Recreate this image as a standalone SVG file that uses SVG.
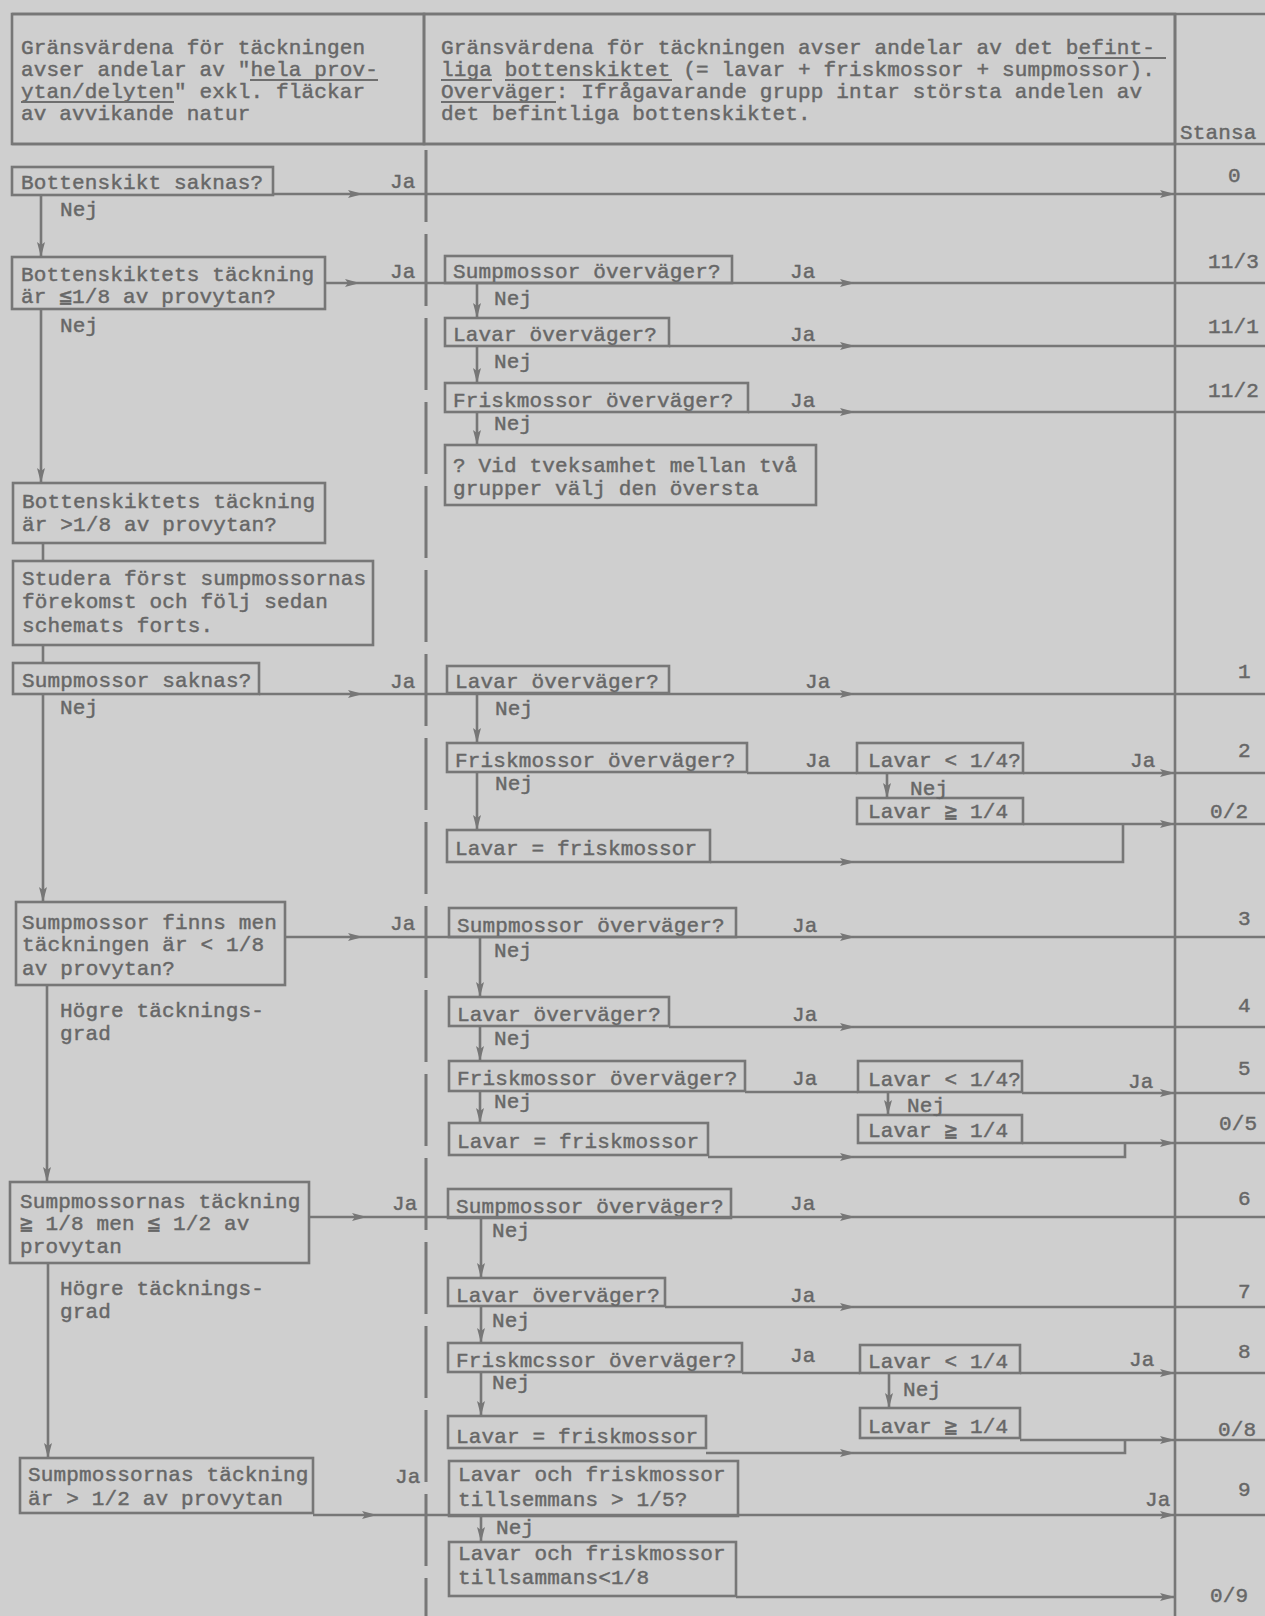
<svg xmlns="http://www.w3.org/2000/svg" width="1265" height="1616" viewBox="0 0 1265 1616">
<defs>
<style>
.t{font-family:"Liberation Mono","DejaVu Sans Mono",monospace;font-size:21px;fill:#676767;stroke:#676767;stroke-width:0.45;letter-spacing:0.15px}
.b{fill:none;stroke:#777;stroke-width:2.6}
.c{fill:none;stroke:#777;stroke-width:2.6}
.ca{fill:none;stroke:#777;stroke-width:2.6;marker-end:url(#a)}
.u{fill:none;stroke:#6f6f6f;stroke-width:1.8}
.d{fill:none;stroke:#777;stroke-width:3;stroke-dasharray:72 12}
</style>
<marker id="a" viewBox="0 0 15 9" refX="15" refY="4.5" markerWidth="15" markerHeight="9" markerUnits="userSpaceOnUse" orient="auto">
<path d="M0,0.5 L15,4.5 L0,8.5 L3,4.5 z" fill="#777"/>
</marker>
</defs>
<rect x="0" y="0" width="1265" height="1616" fill="#cfcfcf"/>

<g id="frame">
<path class="c" d="M12,14H1265 M12,144H1265 M1175,14V1616"/>
<path class="d" d="M426,150V1616"/>
</g>

<g id="header-left">
<rect class="b" x="12" y="14" width="412" height="130"/>
<text class="t" x="21" y="54">Gränsvärdena för täckningen</text>
<text class="t" x="21" y="76">avser andelar av "hela prov-</text>
<text class="t" x="21" y="98">ytan/delyten" exkl. fläckar</text>
<text class="t" x="21" y="120">av avvikande natur</text>
<path class="u" d="M250,80H378 M21,102H174"/>
</g>

<g id="header-mid">
<rect class="b" x="424" y="14" width="751" height="130"/>
<text class="t" x="441" y="54">Gränsvärdena för täckningen avser andelar av det befint-</text>
<text class="t" x="441" y="76">liga bottenskiktet (= lavar + friskmossor + sumpmossor).</text>
<text class="t" x="441" y="98">Overväger: Ifrågavarande grupp intar största andelen av</text>
<text class="t" x="441" y="120">det befintliga bottenskiktet.</text>
<path class="u" d="M1078,58H1166 M441,80H492 M505,80H672 M441,102H556"/>
</g>

<g id="header-stansa">
<text class="t" x="1180" y="139">Stansa</text>
</g>

<g id="n1"><rect class="b" x="12" y="167" width="261" height="28"/><text class="t" x="21" y="189">Bottenskikt saknas?</text></g>
<g id="n2"><rect class="b" x="12" y="257" width="313" height="52"/><text class="t" x="21" y="281">Bottenskiktets täckning</text><text class="t" x="21" y="303">är ≦1/8 av provytan?</text></g>
<g id="n3"><rect class="b" x="13" y="483" width="312" height="60"/><text class="t" x="22" y="508">Bottenskiktets täckning</text><text class="t" x="22" y="531">är &gt;1/8 av provytan?</text></g>
<g id="n4"><rect class="b" x="13" y="561" width="360" height="84"/><text class="t" x="22" y="585">Studera först sumpmossornas</text><text class="t" x="22" y="608">förekomst och följ sedan</text><text class="t" x="22" y="632">schemats forts.</text></g>
<g id="n5"><rect class="b" x="13" y="663" width="246" height="31"/><text class="t" x="22" y="687">Sumpmossor saknas?</text></g>
<g id="n6"><rect class="b" x="16" y="902" width="269" height="83"/><text class="t" x="22" y="929">Sumpmossor finns men</text><text class="t" x="22" y="951">täckningen är &lt; 1/8</text><text class="t" x="22" y="975">av provytan?</text></g>
<g id="n7"><rect class="b" x="10" y="1182" width="299" height="81"/><text class="t" x="20" y="1208">Sumpmossornas täckning</text><text class="t" x="20" y="1230">≧ 1/8 men ≦ 1/2 av</text><text class="t" x="20" y="1253">provytan</text></g>
<g id="n8"><rect class="b" x="20" y="1458" width="293" height="55"/><text class="t" x="28" y="1481">Sumpmossornas täckning</text><text class="t" x="28" y="1505">är &gt; 1/2 av provytan</text></g>

<g id="m1"><rect class="b" x="445" y="256" width="287" height="27"/><text class="t" x="453" y="278">Sumpmossor överväger?</text></g>
<g id="m2"><rect class="b" x="445" y="318" width="224" height="28"/><text class="t" x="453" y="341">Lavar överväger?</text></g>
<g id="m3"><rect class="b" x="445" y="383" width="303" height="29"/><text class="t" x="453" y="407">Friskmossor överväger?</text></g>
<g id="m4"><rect class="b" x="445" y="445" width="371" height="60"/><text class="t" x="453" y="472">? Vid tveksamhet mellan två</text><text class="t" x="453" y="495">grupper välj den översta</text></g>

<g id="p1"><rect class="b" x="447" y="666" width="222" height="27"/><text class="t" x="455" y="688">Lavar överväger?</text></g>
<g id="p2"><rect class="b" x="447" y="743" width="300" height="29"/><text class="t" x="455" y="767">Friskmossor överväger?</text></g>
<g id="p3"><rect class="b" x="447" y="830" width="263" height="32"/><text class="t" x="455" y="855">Lavar = friskmossor</text></g>
<g id="q1"><rect class="b" x="857" y="743" width="166" height="30"/><text class="t" x="868" y="767">Lavar &lt; 1/4?</text></g>
<g id="q2"><rect class="b" x="857" y="798" width="166" height="26"/><text class="t" x="868" y="818">Lavar ≧ 1/4</text></g>

<g id="r1"><rect class="b" x="449" y="908" width="287" height="29"/><text class="t" x="457" y="932">Sumpmossor överväger?</text></g>
<g id="r2"><rect class="b" x="449" y="997" width="220" height="29"/><text class="t" x="457" y="1021">Lavar överväger?</text></g>
<g id="r3"><rect class="b" x="449" y="1061" width="296" height="30"/><text class="t" x="457" y="1085">Friskmossor överväger?</text></g>
<g id="r4"><rect class="b" x="449" y="1123" width="259" height="32"/><text class="t" x="457" y="1148">Lavar = friskmossor</text></g>
<g id="s1"><rect class="b" x="858" y="1061" width="164" height="31"/><text class="t" x="868" y="1086">Lavar &lt; 1/4?</text></g>
<g id="s2"><rect class="b" x="858" y="1115" width="164" height="28"/><text class="t" x="868" y="1137">Lavar ≧ 1/4</text></g>

<g id="t1"><rect class="b" x="448" y="1189" width="283" height="29"/><text class="t" x="456" y="1213">Sumpmossor överväger?</text></g>
<g id="t2"><rect class="b" x="448" y="1278" width="217" height="28"/><text class="t" x="456" y="1302">Lavar överväger?</text></g>
<g id="t3"><rect class="b" x="448" y="1343" width="294" height="29"/><text class="t" x="456" y="1367">Friskmcssor överväger?</text></g>
<g id="t4"><rect class="b" x="448" y="1416" width="258" height="32"/><text class="t" x="456" y="1443">Lavar = friskmossor</text></g>
<g id="u1"><rect class="b" x="860" y="1345" width="160" height="28"/><text class="t" x="868" y="1368">Lavar &lt; 1/4</text></g>
<g id="u2"><rect class="b" x="860" y="1408" width="160" height="30"/><text class="t" x="868" y="1433">Lavar ≧ 1/4</text></g>

<g id="v1"><rect class="b" x="449" y="1461" width="289" height="55"/><text class="t" x="458" y="1481">Lavar och friskmossor</text><text class="t" x="458" y="1506">tillsemmans &gt; 1/5?</text></g>
<g id="v2"><rect class="b" x="449" y="1542" width="287" height="54"/><text class="t" x="458" y="1560">Lavar och friskmossor</text><text class="t" x="458" y="1584">tillsammans&lt;1/8</text></g>

<g id="connectors">
<path class="ca" d="M273,194H363"/><path class="ca" d="M363,194H1175"/><path class="c" d="M1175,194H1265"/>
<path class="ca" d="M41,195V257"/>
<path class="ca" d="M325,283H360"/><path class="ca" d="M360,283H855"/><path class="c" d="M855,283H1265"/>
<path class="ca" d="M477,283V318"/>
<path class="ca" d="M669,346H855"/><path class="c" d="M855,346H1265"/>
<path class="ca" d="M477,346V383"/>
<path class="ca" d="M748,412H855"/><path class="c" d="M855,412H1265"/>
<path class="ca" d="M477,412V445"/>
<path class="ca" d="M41,309V483"/>
<path class="c" d="M43,543V561 M43,645V663"/>
<path class="ca" d="M259,694H363"/><path class="ca" d="M363,694H855"/><path class="c" d="M855,694H1265"/>
<path class="ca" d="M477,693V743"/>
<path class="c" d="M747,773H857"/>
<path class="ca" d="M1023,773H1175"/><path class="c" d="M1175,773H1265"/>
<path class="ca" d="M887,773V798"/>
<path class="ca" d="M1023,824H1175"/><path class="c" d="M1175,824H1265"/>
<path class="ca" d="M477,772V830"/>
<path class="ca" d="M710,862H855"/><path class="c" d="M855,862H1123V824"/>
<path class="ca" d="M43,694V902"/>
<path class="ca" d="M285,937H363"/><path class="ca" d="M363,937H855"/><path class="c" d="M855,937H1265"/>
<path class="ca" d="M480,937V997"/>
<path class="ca" d="M669,1027H855"/><path class="c" d="M855,1027H1265"/>
<path class="ca" d="M480,1026V1061"/>
<path class="c" d="M745,1092H858"/>
<path class="ca" d="M1022,1093H1175"/><path class="c" d="M1175,1093H1265"/>
<path class="ca" d="M888,1093V1115"/>
<path class="ca" d="M1022,1143H1175"/><path class="c" d="M1175,1143H1265"/>
<path class="ca" d="M480,1091V1123"/>
<path class="ca" d="M708,1157H855"/><path class="c" d="M855,1157H1125V1143"/>
<path class="ca" d="M47,985V1182"/>
<path class="ca" d="M309,1217H367"/><path class="ca" d="M367,1217H855"/><path class="c" d="M855,1217H1265"/>
<path class="ca" d="M481,1218V1278"/>
<path class="ca" d="M665,1307H855"/><path class="c" d="M855,1307H1265"/>
<path class="ca" d="M481,1306V1343"/>
<path class="c" d="M742,1373H860"/>
<path class="ca" d="M1020,1373H1175"/><path class="c" d="M1175,1373H1265"/>
<path class="ca" d="M889,1373V1408"/>
<path class="ca" d="M1020,1440H1175"/><path class="c" d="M1175,1440H1265"/>
<path class="ca" d="M481,1372V1416"/>
<path class="ca" d="M706,1453H855"/><path class="c" d="M855,1453H1125V1440"/>
<path class="ca" d="M48,1263V1458"/>
<path class="ca" d="M313,1515H377"/><path class="ca" d="M377,1515H1175"/><path class="c" d="M1175,1515H1265"/>
<path class="ca" d="M481,1516V1542"/>
<path class="ca" d="M736,1597H1175"/>
</g>

<g id="labels">
<text class="t" x="390" y="188">Ja</text>
<text class="t" x="60" y="216">Nej</text>
<text class="t" x="390" y="278">Ja</text>
<text class="t" x="60" y="332">Nej</text>
<text class="t" x="790" y="278">Ja</text>
<text class="t" x="494" y="305">Nej</text>
<text class="t" x="790" y="341">Ja</text>
<text class="t" x="494" y="368">Nej</text>
<text class="t" x="790" y="407">Ja</text>
<text class="t" x="494" y="430">Nej</text>
<text class="t" x="390" y="688">Ja</text>
<text class="t" x="60" y="714">Nej</text>
<text class="t" x="805" y="688">Ja</text>
<text class="t" x="495" y="715">Nej</text>
<text class="t" x="805" y="767">Ja</text>
<text class="t" x="1130" y="767">Ja</text>
<text class="t" x="910" y="795">Nej</text>
<text class="t" x="495" y="790">Nej</text>
<text class="t" x="390" y="930">Ja</text>
<text class="t" x="60" y="1017">Högre täcknings-</text>
<text class="t" x="60" y="1040">grad</text>
<text class="t" x="792" y="932">Ja</text>
<text class="t" x="494" y="957">Nej</text>
<text class="t" x="792" y="1021">Ja</text>
<text class="t" x="494" y="1045">Nej</text>
<text class="t" x="792" y="1085">Ja</text>
<text class="t" x="1128" y="1088">Ja</text>
<text class="t" x="494" y="1108">Nej</text>
<text class="t" x="907" y="1112">Nej</text>
<text class="t" x="392" y="1210">Ja</text>
<text class="t" x="60" y="1295">Högre täcknings-</text>
<text class="t" x="60" y="1318">grad</text>
<text class="t" x="790" y="1210">Ja</text>
<text class="t" x="492" y="1237">Nej</text>
<text class="t" x="790" y="1302">Ja</text>
<text class="t" x="492" y="1327">Nej</text>
<text class="t" x="790" y="1362">Ja</text>
<text class="t" x="1129" y="1366">Ja</text>
<text class="t" x="492" y="1389">Nej</text>
<text class="t" x="903" y="1396">Nej</text>
<text class="t" x="395" y="1483">Ja</text>
<text class="t" x="1145" y="1506">Ja</text>
<text class="t" x="496" y="1534">Nej</text>
</g>

<g id="codes">
<text class="t" x="1228" y="182">0</text>
<text class="t" x="1208" y="268">11/3</text>
<text class="t" x="1208" y="333">11/1</text>
<text class="t" x="1208" y="397">11/2</text>
<text class="t" x="1238" y="678">1</text>
<text class="t" x="1238" y="757">2</text>
<text class="t" x="1210" y="818">0/2</text>
<text class="t" x="1238" y="925">3</text>
<text class="t" x="1238" y="1012">4</text>
<text class="t" x="1238" y="1075">5</text>
<text class="t" x="1219" y="1130">0/5</text>
<text class="t" x="1238" y="1205">6</text>
<text class="t" x="1238" y="1298">7</text>
<text class="t" x="1238" y="1358">8</text>
<text class="t" x="1218" y="1436">0/8</text>
<text class="t" x="1238" y="1496">9</text>
<text class="t" x="1210" y="1602">0/9</text>
</g>
</svg>
